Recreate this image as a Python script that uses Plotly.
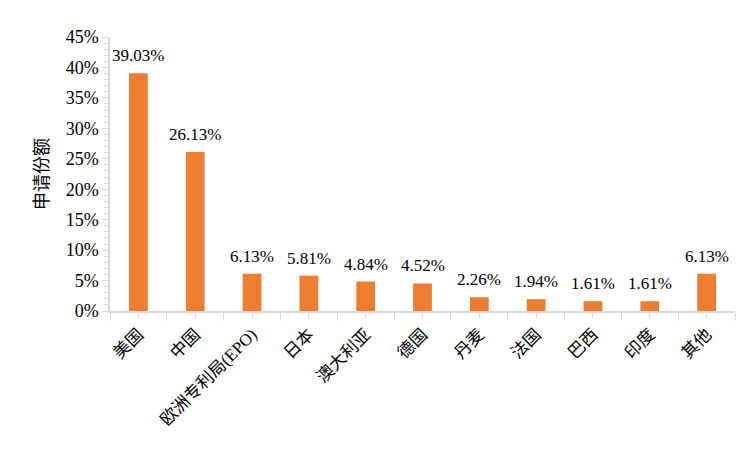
import plotly.graph_objects as go

categories = ["美国", "中国", "欧洲专利局(EPO)", "日本", "澳大利亚", "德国", "丹麦", "法国", "巴西", "印度", "其他"]
shares = [39.03, 26.13, 6.13, 5.81, 4.84, 4.52, 2.26, 1.94, 1.61, 1.61, 6.13]
y_ticks = [0, 5, 10, 15, 20, 25, 30, 35, 40, 45]

positions = list(range(len(categories)))
font_family = "'Liberation Serif', 'Noto Sans CJK SC', serif"

fig = go.Figure()
fig.add_trace(go.Bar(
    x=positions,
    y=shares,
    marker=dict(color="#ED7D31", line=dict(width=0)),
    width=0.33,
    hoverinfo="skip",
))

for xp, v in zip(positions, shares):
    fig.add_annotation(
        x=xp, y=v, xref="x", yref="y",
        text=f"{v:.2f}%", showarrow=False,
        yanchor="bottom", yshift=6,
        font=dict(family=font_family, size=17, color="#000000"),
    )

fig.update_layout(
    width=756, height=460,
    margin=dict(l=102, r=29, t=29, b=157),
    paper_bgcolor="white", plot_bgcolor="white",
    showlegend=False,
    font=dict(family=font_family, color="#000000"),
    xaxis=dict(
        range=[-0.5, len(categories) - 0.5],
        tickvals=positions, ticktext=categories,
        tickangle=-45,
        automargin=False,
        tickfont=dict(family=font_family, size=17, color="#000000"),
        showgrid=False, zeroline=False,
        showline=True, linecolor="#D9D9D9", linewidth=1.5,
        ticks="outside", ticklen=5, tickcolor="#D9D9D9",
        minor=dict(tick0=0.5, dtick=1, ticks="outside", ticklen=8, tickcolor="#D9D9D9"),
    ),
    yaxis=dict(
        range=[0, 45],
        automargin=False,
        tickvals=y_ticks, ticktext=[f"{t}%" for t in y_ticks],
        tickfont=dict(family=font_family, size=18, color="#000000"),
        showgrid=False, zeroline=False,
        showline=True, linecolor="#D9D9D9", linewidth=1.5,
        ticks="outside", ticklen=6, tickcolor="#D9D9D9",
        minor=dict(dtick=1, ticks="outside", ticklen=4, tickcolor="#D9D9D9"),
        title=dict(text="申请份额", font=dict(family="Noto Sans CJK SC", size=18, color="#000000"), standoff=12),
    ),
)

fig.write_html("out.html")
